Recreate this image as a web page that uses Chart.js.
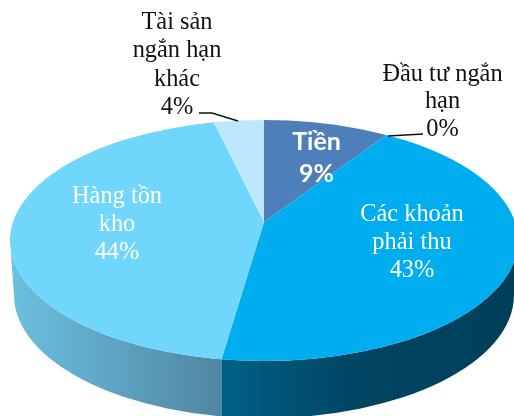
<!DOCTYPE html>
<html><head><meta charset="utf-8">
<style>html,body{margin:0;padding:0;background:#fff;overflow:hidden}canvas{display:block}</style>
<script src="https://cdn.jsdelivr.net/npm/chart.js@4"></script>
</head><body><canvas id="c" width="514" height="416"></canvas>
<script>
const categories = ['Tiền', 'Đầu tư ngắn hạn', 'Các khoản phải thu', 'Hàng tồn kho', 'Tài sản ngắn hạn khác'];
const values = [9.3, 0, 43, 44, 3.7];
const colors = ['#4F7FBA', '#00AEEF', '#00AEEF', '#71D6FC', '#BDE8FB'];
const labelLines = [['Tiền', '9%'], ['Đầu tư ngắn', 'hạn', '0%'], ['Các khoản', 'phải thu', '43%'], ['Hàng tồn', 'kho', '44%'], ['Tài sản', 'ngắn hạn', 'khác', '4%']];

// Layout of the drawing (not data)
const apex = {x: 264, y: 222};
const top_ = {x: 264, y: 240.5, rx: 254, ry: 120.5};
const bot = {x: 264, y: 295, rx: 250, ry: 123};
const SX = 1.6, SY = 0.752;
const labelPos = [
  {x: 316.5, y: 141.5, color: '#fff', font: 'bold 25px Lato', lh: 32.5},
  {x: 442.5, y: 74.5, color: '#111', font: '24.4px "Liberation Serif"', lh: 27.5},
  {x: 412, y: 214.5, color: '#fff', font: '24.4px "Liberation Serif"', lh: 28},
  {x: 117, y: 196.5, color: '#fff', font: '24.4px "Liberation Serif"', lh: 28},
  {x: 177, y: 22.5, color: '#111', font: '24.4px "Liberation Serif"', lh: 28.5}
];
const leaders = [
  null,
  [[388, 136], [423, 134]],
  null, null,
  [[199, 113], [212, 113], [238, 121]]
];

function rayX(angle) {
  // Chart.js angle through the squashed transform, intersected with the top ellipse
  const dx = Math.cos(angle) * SX, dy = Math.sin(angle) * SY;
  const ax = apex.x - top_.x, ay = apex.y - top_.y;
  const A = dx*dx/(top_.rx*top_.rx) + dy*dy/(top_.ry*top_.ry);
  const B = 2*(ax*dx/(top_.rx*top_.rx) + ay*dy/(top_.ry*top_.ry));
  const C = ax*ax/(top_.rx*top_.rx) + ay*ay/(top_.ry*top_.ry) - 1;
  const t = (-B + Math.sqrt(B*B - 4*A*C)) / (2*A);
  return apex.x + dx*t;
}

const pie3d = {
  id: 'pie3d',
  beforeDatasetsDraw(chart) {
    const ctx = chart.ctx, arcs = chart.getDatasetMeta(0).data;
    // side wall below the rim, split where the slice boundary meets the rim
    const split = rayX(arcs[2].endAngle);
    const wall = () => {
      ctx.beginPath();
      ctx.ellipse(top_.x, top_.y, top_.rx, top_.ry, 0, Math.PI, 0, true);
      ctx.lineTo(bot.x + bot.rx, bot.y);
      ctx.ellipse(bot.x, bot.y, bot.rx, bot.ry, 0, 0, Math.PI, false);
      ctx.closePath();
    };
    ctx.save();
    let g = ctx.createLinearGradient(10, 0, split, 0);
    g.addColorStop(0, '#6CC0E0'); g.addColorStop(1, '#4F86A3');
    ctx.beginPath(); ctx.rect(0, 0, split, 416); ctx.clip();
    wall(); ctx.fillStyle = g; ctx.fill();
    ctx.restore();
    ctx.save();
    g = ctx.createLinearGradient(split, 0, 514, 0);
    g.addColorStop(0, '#006088'); g.addColorStop(0.45, '#004563'); g.addColorStop(1, '#003F5A');
    ctx.beginPath(); ctx.rect(split, 0, 514 - split, 416); ctx.clip();
    wall(); ctx.fillStyle = g; ctx.fill();
    ctx.restore();
    // top face: the library's arcs, projected and cut to the rim
    const a = arcs[0];
    ctx.save();
    ctx.beginPath();
    ctx.ellipse(top_.x, top_.y, top_.rx, top_.ry, 0, 0, Math.PI * 2);
    ctx.clip();
    ctx.translate(apex.x, apex.y);
    ctx.scale(SX, SY);
    ctx.translate(-a.x, -a.y);
  },
  afterDatasetsDraw(chart) {
    const ctx = chart.ctx;
    ctx.restore();
    ctx.strokeStyle = '#111'; ctx.lineWidth = 1.4;
    leaders.forEach(l => {
      if (!l) return;
      ctx.beginPath();
      l.forEach((p, i) => i ? ctx.lineTo(p[0], p[1]) : ctx.moveTo(p[0], p[1]));
      ctx.stroke();
    });
    ctx.textAlign = 'center'; ctx.textBaseline = 'middle';
    labelLines.forEach((lines, i) => {
      const p = labelPos[i];
      ctx.fillStyle = p.color; ctx.font = p.font;
      lines.forEach((t, j) => ctx.fillText(t, p.x, p.y + j * p.lh));
    });
  }
};

new Chart(document.getElementById('c'), {
  type: 'pie',
  data: {labels: categories, datasets: [{data: values, backgroundColor: colors, borderWidth: 0, clip: false}]},
  options: {
    responsive: false, animation: false, rotation: 0,
    layout: {padding: 0},
    plugins: {legend: {display: false}, tooltip: {enabled: false}}
  },
  plugins: [pie3d]
});
</script></body></html>
